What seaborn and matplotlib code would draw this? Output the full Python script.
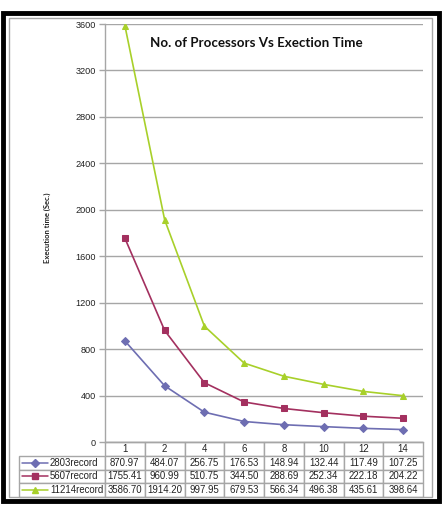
import matplotlib.pyplot as plt
import matplotlib.patches as mpatches
from matplotlib.lines import Line2D
import seaborn as sns

# DATA
procs = ["1", "2", "4", "6", "8", "10", "12", "14"]
series = ["2803record", "5607record", "11214record"]
t2803 = [870.97, 484.07, 256.75, 176.53, 148.94, 132.44, 117.49, 107.25]
t5607 = [1755.41, 960.99, 510.75, 344.50, 288.69, 252.34, 222.18, 204.22]
t11214 = [3586.70, 1914.20, 997.95, 679.53, 566.34, 496.38, 435.61, 398.64]
yticks = [0, 400, 800, 1200, 1600, 2000, 2400, 2800, 3200, 3600]

values = [t2803, t5607, t11214]
colors = ["#6E6EB2", "#A3305F", "#A8D02A"]
markers = ["D", "s", "^"]
msizes = [4.5, 5, 4.5]

sns.set_style("white")
plt.rcParams["font.family"] = ["Liberation Sans", "DejaVu Sans"]

W, H = 445, 505
fig = plt.figure(figsize=(W / 100, H / 100), dpi=100)

# axes in pixel geometry
x0, x1, ytop, ybot = 105, 423, 24, 442
ax = fig.add_axes([x0 / W, 1 - ybot / H, (x1 - x0) / W, (ybot - ytop) / H])

GRID = "#A6A6A6"
for vals, name, c, m, ms in zip(values, series, colors, markers, msizes):
    sns.lineplot(x=procs, y=vals, ax=ax, color=c, marker=m, markersize=ms,
                 markeredgecolor=c, linewidth=1.2, sort=False, label=name)
ax.get_legend().remove()

ax.set_xlim(-0.5, len(procs) - 0.5)
ax.set_ylim(0, 3600)
ax.set_yticks(yticks)
ax.set_xticks([])
ax.yaxis.grid(True, color=GRID, linewidth=1)
ax.set_axisbelow(True)
for s in ["top", "right"]:
    ax.spines[s].set_visible(False)
for s in ["left", "bottom"]:
    ax.spines[s].set_color(GRID)
    ax.spines[s].set_linewidth(1)
ax.tick_params(axis="y", left=True, length=4, width=1, color=GRID,
               labelsize=6.6, pad=2.5, labelcolor="#222222")
ax.set_xlabel("")

ax.text(0.476, 0.954, "No. of Processors Vs Exection Time", transform=ax.transAxes,
        ha="center", va="center", fontsize=9.6, fontweight="bold",
        family=["Lato", "DejaVu Sans"], color="#111111")
fig.text(47 / W, 1 - 228 / H, "Execution time (Sec.)", rotation=90,
         ha="center", va="center", fontsize=5.5, fontweight="bold",
         family=["Lato", "DejaVu Sans"], color="#222222")

# DATA TABLE
tx0, ty1 = 19, 497
axw, axh = x1 - x0, ybot - ytop
cell_text = [[""] + [f"{v:.2f}" for v in vals] for vals in values]
widths = [86] + [(x1 - x0) / len(procs)] * len(procs)
tot = sum(widths)
tbl = ax.table(cellText=cell_text, colLabels=[""] + procs,
               colWidths=[w / tot for w in widths], cellLoc="center",
               bbox=[(tx0 - x0) / axw, -(ty1 - ybot) / axh,
                     (x1 - tx0) / axw, (ty1 - ybot) / axh])
tbl.auto_set_font_size(False)
for (r, c), cell in tbl.get_celld().items():
    cell.set_edgecolor(GRID)
    cell.set_linewidth(1)
    cell.get_text().set_fontsize(6.9)
    cell.get_text().set_color("#222222")
tbl[0, 0].set_visible(False)

# legend keys inside the row label cells
nrow = len(series) + 1
rh = (ty1 - ybot) / nrow
for i, (name, c, m, ms) in enumerate(zip(series, colors, markers, msizes)):
    yc = ybot + rh * (i + 1.5)
    yy = -(yc - ybot) / axh
    ax.add_line(Line2D([(22 - x0) / axw, (48 - x0) / axw], [yy, yy],
                       transform=ax.transAxes, color=c, linewidth=1.1,
                       marker=None, clip_on=False))
    ax.add_line(Line2D([(35 - x0) / axw], [yy], transform=ax.transAxes,
                       color=c, marker=m, markersize=ms - 0.5,
                       markeredgecolor=c, clip_on=False))
    ax.text((50 - x0) / axw, yy, name, transform=ax.transAxes, ha="left",
            va="center", fontsize=6.9, color="#222222")

# outer frames
fig.patches.append(mpatches.Rectangle((3 / W, 1 - 501 / H), 436 / W, 488 / H,
                                      transform=fig.transFigure, fill=False,
                                      edgecolor="black", linewidth=3.5))
fig.patches.append(mpatches.Rectangle((8.5 / W, 1 - 497 / H), 423 / W, 479 / H,
                                      transform=fig.transFigure, fill=False,
                                      edgecolor=GRID, linewidth=1))

fig.savefig("out.png", dpi=100)
